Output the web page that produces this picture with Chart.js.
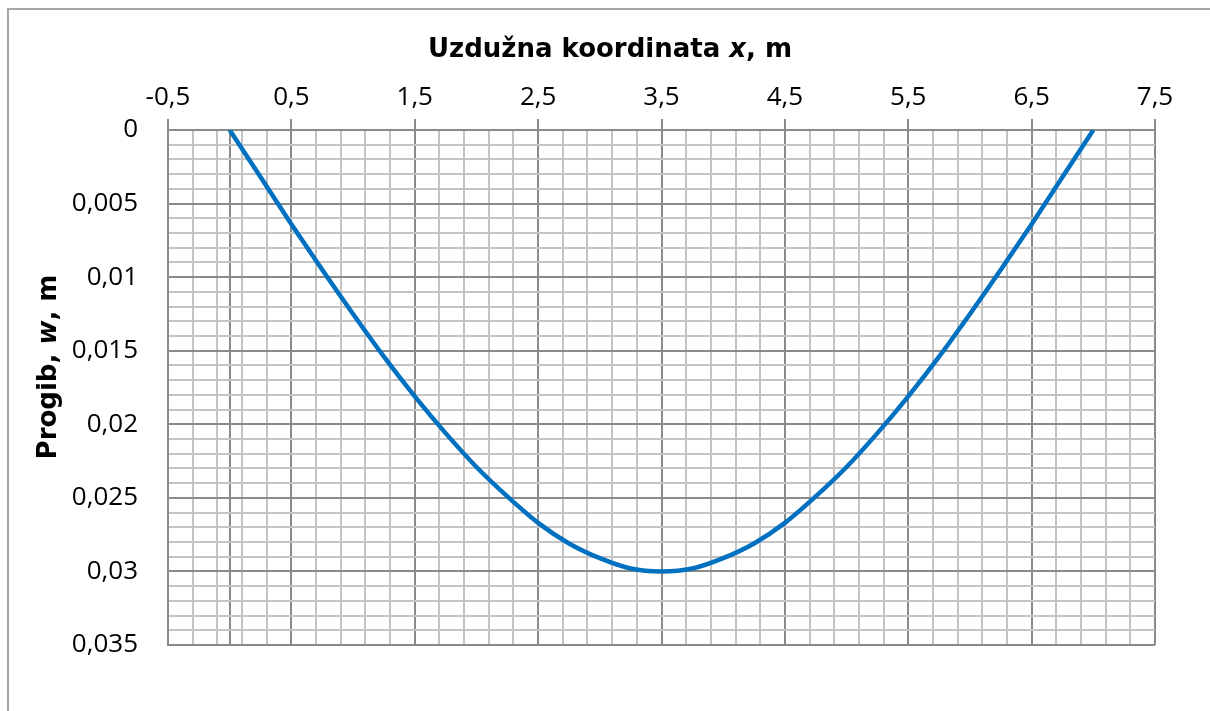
<!DOCTYPE html>
<html>
<head>
<meta charset="utf-8">
<script src="https://cdn.jsdelivr.net/npm/chart.js@4.4.0/dist/chart.umd.min.js"></script>
<style>
  html, body { margin:0; padding:0; background:#fff; overflow:hidden; }
  #wrap { position:relative; width:1210px; height:711px; }
</style>
</head>
<body>
<div id="wrap"><canvas id="chart"></canvas></div>
<script>
// DATA
const xValues = [0, 0.25, 0.5, 0.75, 1, 1.25, 1.5, 1.75, 2, 2.25, 2.5, 2.75, 3, 3.25, 3.5,
                 3.75, 4, 4.25, 4.5, 4.75, 5, 5.25, 5.5, 5.75, 6, 6.25, 6.5, 6.75, 7];
const wValues = [0, 0.0032, 0.0064, 0.0095, 0.0125, 0.0154, 0.0181, 0.0206, 0.0229, 0.0249, 0.0267, 0.0281, 0.0291, 0.0298, 0.0300,
                 0.0298, 0.0291, 0.0281, 0.0267, 0.0249, 0.0229, 0.0206, 0.0181, 0.0154, 0.0125, 0.0095, 0.0064, 0.0032, 0];

const xTickValues = [-0.5, 0.5, 1.5, 2.5, 3.5, 4.5, 5.5, 6.5, 7.5];
const xTickLabels = ['-0,5', '0,5', '1,5', '2,5', '3,5', '4,5', '5,5', '6,5', '7,5'];
const yTickValues = [0, 0.005, 0.01, 0.015, 0.02, 0.025, 0.03, 0.035];
const yTickLabels = ['0', '0,005', '0,01', '0,015', '0,02', '0,025', '0,03', '0,035'];
const xMinorStep = 0.2;
const yMinorStep = 0.001;

const MAJOR = '#8a8a8a', MINOR = '#c4c4c4';
const tickFont = { family:'"Open Sans"', size:26 };

const near = (a, b) => Math.abs(a - b) < 1e-9;
const labelFor = (vals, labels, v) => {
  const i = vals.findIndex(t => near(t, v));
  return i < 0 ? '' : labels[i];
};

// rich text helper (axis titles with italic symbols)
function drawRich(ctx, parts, cx, cy, angle) {
  const fontOf = it => (it ? 'italic ' : '') + 'bold 26px "DejaVu Sans"';
  ctx.save();
  ctx.translate(cx, cy);
  ctx.rotate(angle);
  const widths = parts.map(p => { ctx.font = fontOf(p.it); return ctx.measureText(p.t).width; });
  let px = -widths.reduce((a, b) => a + b, 0) / 2;
  ctx.fillStyle = '#000';
  ctx.textAlign = 'left';
  ctx.textBaseline = 'alphabetic';
  parts.forEach((p, i) => { ctx.font = fontOf(p.it); ctx.fillText(p.t, px, 0); px += widths[i]; });
  ctx.restore();
}

const decor = {
  id: 'decor',
  beforeDatasetsDraw(chart) {
    const { ctx, scales: { x, y } } = chart;
    const x0 = Math.round(x.getPixelForValue(0));
    ctx.save();
    ctx.strokeStyle = MAJOR;
    ctx.lineWidth = 2;
    yTickValues.forEach(v => {
      const py = Math.round(y.getPixelForValue(v));
      ctx.beginPath(); ctx.moveTo(x0 - 10, py); ctx.lineTo(x0, py); ctx.stroke();
    });
    ctx.restore();
  },
  afterDraw(chart) {
    const ctx = chart.ctx;
    ctx.save();
    ctx.strokeStyle = '#a6a6a6';
    ctx.lineWidth = 2;
    ctx.beginPath(); ctx.moveTo(8, 730); ctx.lineTo(8, 9); ctx.lineTo(1230, 9); ctx.stroke();
    ctx.restore();
    drawRich(ctx, [{ t:'Uzdužna koordinata ' }, { t:'x', it:true }, { t:', m' }], 610, 57, 0);
    drawRich(ctx, [{ t:'Progib, ' }, { t:'w', it:true }, { t:', m' }], 56, 367, -Math.PI / 2);
  }
};

new Chart(document.getElementById('chart'), {
  type: 'scatter',
  data: {
    datasets: [{
      data: xValues.map((v, i) => ({ x: v, y: wValues[i] })),
      showLine: true,
      borderColor: '#0070C0',
      borderWidth: 4.5,
      pointRadius: 0,
      tension: 0.4,
      cubicInterpolationMode: 'monotone'
    }]
  },
  options: {
    responsive: true,
    maintainAspectRatio: false,
    animation: false,
    layout: { padding: { left:0, top:0, right:55, bottom:66 } },
    plugins: { legend: { display:false }, tooltip: { enabled:false } },
    scales: {
      x: {
        type: 'linear',
        position: 'top',
        min: -0.5, max: 7.5,
        afterBuildTicks: s => {
          const t = [];
          for (let k = 0; k <= 40; k++) t.push({ value: Math.round((-0.5 + k * xMinorStep) * 1e6) / 1e6 });
          t.push({ value: 0 });
          t.sort((a, b) => a.value - b.value);
          s.ticks = t;
        },
        afterFit: s => { s.height = 130; },
        ticks: {
          autoSkip: false, maxRotation: 0, padding: 6, color: '#000', font: tickFont,
          callback: v => labelFor(xTickValues, xTickLabels, v)
        },
        grid: {
          lineWidth: 2,
          tickLength: 11,
          color: c => (c.tick && (near(c.tick.value, 0) || xTickValues.some(t => near(t, c.tick.value)))) ? MAJOR : MINOR,
          tickColor: c => (c.tick && xTickValues.some(t => near(t, c.tick.value))) ? MAJOR : 'rgba(0,0,0,0)'
        },
        border: { color: MAJOR, width: 2 }
      },
      y: {
        type: 'linear',
        reverse: true,
        min: 0, max: 0.035,
        afterBuildTicks: s => {
          const t = [];
          for (let k = 0; k <= 35; k++) t.push({ value: Math.round(k * yMinorStep * 1e6) / 1e6 });
          s.ticks = t;
        },
        afterFit: s => { s.width = 168; },
        ticks: {
          autoSkip: false, padding: 30, color: '#000', font: tickFont,
          callback: v => labelFor(yTickValues, yTickLabels, v)
        },
        grid: {
          lineWidth: 2,
          drawTicks: false,
          color: c => (c.tick && yTickValues.some(t => near(t, c.tick.value))) ? MAJOR : MINOR
        },
        border: { color: MAJOR, width: 2 }
      }
    }
  },
  plugins: [decor]
});
</script>
</body>
</html>
